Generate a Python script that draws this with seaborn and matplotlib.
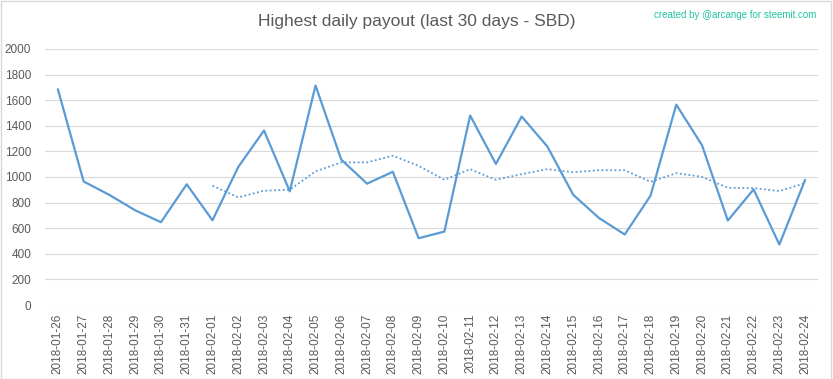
import matplotlib
matplotlib.use("Agg")
import matplotlib.pyplot as plt
from matplotlib.patches import Rectangle
import pandas as pd
import seaborn as sns

dates = [
    "2018-01-26", "2018-01-27", "2018-01-28", "2018-01-29", "2018-01-30",
    "2018-01-31", "2018-02-01", "2018-02-02", "2018-02-03", "2018-02-04",
    "2018-02-05", "2018-02-06", "2018-02-07", "2018-02-08", "2018-02-09",
    "2018-02-10", "2018-02-11", "2018-02-12", "2018-02-13", "2018-02-14",
    "2018-02-15", "2018-02-16", "2018-02-17", "2018-02-18", "2018-02-19",
    "2018-02-20", "2018-02-21", "2018-02-22", "2018-02-23", "2018-02-24",
]
payout = [
    1685, 965, 860, 740, 647, 943, 662, 1078, 1363, 888,
    1714, 1135, 948, 1041, 522, 574, 1480, 1102, 1472, 1237,
    861, 680, 551, 854, 1565, 1247, 660, 903, 473, 978,
]
# dotted trend line, first value at 2018-02-01
trend_dates = dates[6:]
trend = [
    932, 841, 893, 901, 1044, 1114, 1114, 1166, 1087, 978,
    1061, 978, 1022, 1061, 1037, 1053, 1053, 962, 1030, 1001,
    916, 913, 890, 952,
]

title = "Highest daily payout (last 30 days - SBD)"
credit = "created by @arcange for steemit.com"

sns.set_style("white")
plt.rcParams["font.family"] = ["Liberation Sans", "DejaVu Sans"]

df = pd.DataFrame({"date": dates, "payout": payout})
df_trend = pd.DataFrame({"date": trend_dates, "trend": trend})

fig = plt.figure(figsize=(8.33, 3.79), dpi=100)
ax = fig.add_axes([0.054, 0.195, 0.928, 0.676])

blue = "#5b9bd5"
sns.lineplot(data=df, x="date", y="payout", color=blue, linewidth=1.6, ax=ax)
sns.lineplot(data=df_trend, x="date", y="trend", color=blue, linewidth=1.3,
             linestyle=(0, (1, 1.4)), ax=ax)

ax.set_xlim(-0.5, len(dates) - 0.5)
ax.set_ylim(0, 2000)
ax.set_yticks(range(0, 2001, 200))
ax.yaxis.grid(True, color="#d9d9d9", linewidth=0.8)
ax.set_axisbelow(True)
for s in ax.spines.values():
    s.set_visible(False)
ax.set_xlabel("")
ax.set_ylabel("")
ax.tick_params(axis="both", length=0, colors="#595959", labelsize=8.5)
ax.tick_params(axis="x", rotation=90, pad=6)
ax.tick_params(axis="y", pad=10)

fig.text(0.5, 0.942, title, ha="center", va="center", fontsize=12.5, color="#595959")
fig.text(0.98, 0.96, credit, ha="right", va="center", fontsize=7, color="#22c4a0")
fig.add_artist(Rectangle((0.001, 0.001), 0.997, 0.996, transform=fig.transFigure,
                         fill=False, edgecolor="#d9d9d9", linewidth=1))

fig.savefig("out.png", dpi=100)
